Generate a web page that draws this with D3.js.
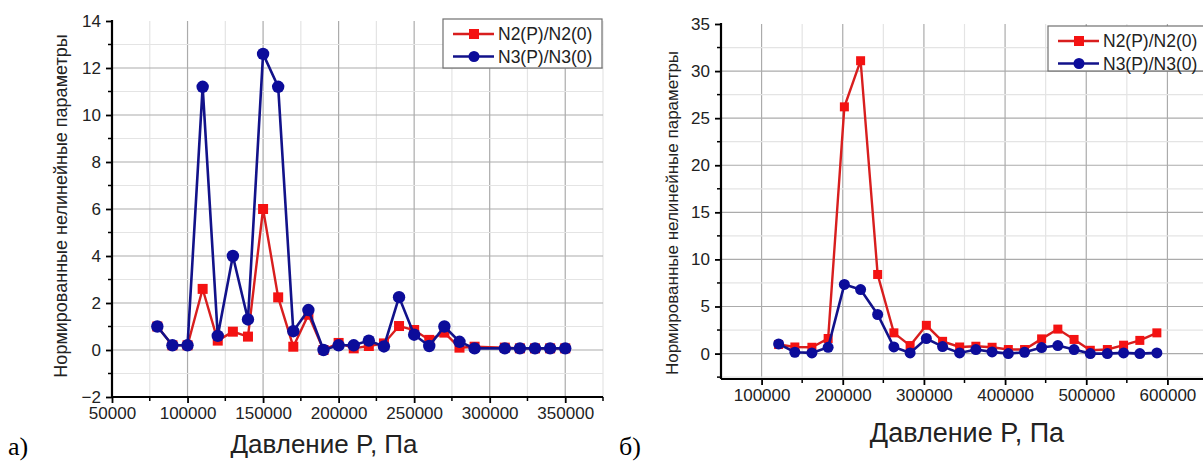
<!DOCTYPE html>
<html lang="ru">
    <head>
        <title>Нормированные нелинейные параметры</title>
        <script src="https://d3js.org/d3.v7.min.js"></script>
        <style>
            body { margin: 0; background: #fff; }
            text { font-family: "Liberation Sans", Arial, sans-serif; }
        </style>
    </head>
    <body>
    <div id="mainDiv"></div>

        <script type="text/javascript">
            const width = 1203
            const height = 463

            // panel a)
            const pressureA = [80000, 90000, 100000, 110000, 120000, 130000, 140000, 150000, 160000, 170000,
                180000, 190000, 200000, 210000, 220000, 230000, 240000, 250000, 260000, 270000,
                280000, 290000, 310000, 320000, 330000, 340000, 350000]
            const n2A = [1.0, 0.2, 0.2, 2.6, 0.4, 0.78, 0.57, 6.0, 2.24, 0.14,
                1.5, 0.0, 0.3, 0.07, 0.17, 0.28, 1.02, 0.85, 0.43, 0.74,
                0.1, 0.14, 0.1, 0.07, 0.07, 0.07, 0.07]
            const n3A = [1.0, 0.2, 0.2, 11.2, 0.6, 4.0, 1.3, 12.6, 11.2, 0.8,
                1.7, 0.0, 0.2, 0.2, 0.4, 0.15, 2.25, 0.65, 0.17, 1.0,
                0.35, 0.07, 0.07, 0.07, 0.07, 0.07, 0.07]
            const xTicksA = [50000, 100000, 150000, 200000, 250000, 300000, 350000]
            const yTicksA = [-2, 0, 2, 4, 6, 8, 10, 12, 14]

            // panel б)
            const pressureB = [121000, 141000, 162000, 182000, 202000, 222000, 243000, 263000, 283000, 303000,
                323000, 344000, 364000, 384000, 404000, 424000, 445000, 465000, 485000, 505000,
                526000, 546000, 566000, 587000]
            const n2B = [0.96, 0.7, 0.67, 1.6, 26.2, 31.1, 8.4, 2.2, 0.85, 3.0,
                1.3, 0.7, 0.78, 0.67, 0.43, 0.43, 1.56, 2.6, 1.5, 0.35,
                0.43, 0.89, 1.4, 2.2]
            const n3B = [1.03, 0.14, 0.07, 0.67, 7.34, 6.8, 4.15, 0.7, 0.07, 1.6,
                0.74, 0.07, 0.43, 0.18, 0.0, 0.14, 0.64, 0.85, 0.43, 0.0,
                0.0, 0.07, 0.0, 0.07]
            const xTicksB = [100000, 200000, 300000, 400000, 500000, 600000]
            const yTicksB = [0, 5, 10, 15, 20, 25, 30, 35]

            const seriesNames = ['N2(P)/N2(0)', 'N3(P)/N3(0)']
            const yTitle = 'Нормированные нелинейные параметры'
            const xTitle = 'Давление P, Па'

            const red = { line: '#d81e1e', fill: '#f41212' }
            const blue = { line: '#12128a', fill: '#0c0c9a' }

            const svg = d3.select('#mainDiv').append('svg')
                .attr('width', width)
                .attr('height', height)

            function drawPanel(p) {
                const x = d3.scaleLinear().domain(p.xDomain).range([p.left, p.right])
                const y = d3.scaleLinear().domain(p.yDomain).range([p.bottom, p.top])
                const g = svg.append('g')

                // minor + major grid
                const xMinor = d3.range(p.xDomain[0], p.xDomain[1] + 1, p.xMinorStep)
                const yMinor = d3.range(p.yMinorStart, p.yDomain[1], p.yMinorStep)
                g.append('g').selectAll('line').data(xMinor.filter(v => v > p.xDomain[0])).join('line')
                    .attr('x1', d => x(d)).attr('x2', d => x(d))
                    .attr('y1', p.top).attr('y2', p.bottom)
                    .attr('stroke', d => p.xTicks.includes(d) ? '#ababab' : '#e4e4e4')
                    .attr('stroke-width', 1.2)
                g.append('g').selectAll('line').data(yMinor.filter(v => v > p.yDomain[0])).join('line')
                    .attr('x1', p.left).attr('x2', p.right)
                    .attr('y1', d => y(d)).attr('y2', d => y(d))
                    .attr('stroke', d => p.yTicks.includes(d) ? '#ababab' : '#e4e4e4')
                    .attr('stroke-width', 1.2)

                // axes
                const xAxis = g.append('g')
                    .attr('transform', `translate(0, ${p.bottom})`)
                    .call(d3.axisBottom(x).tickValues(p.xTicks).tickSize(6).tickPadding(4).tickFormat(d3.format('d')))
                xAxis.append('g').selectAll('line').data(xMinor.filter(v => !p.xTicks.includes(v) && v > p.xDomain[0])).join('line')
                    .attr('x1', d => x(d)).attr('x2', d => x(d)).attr('y1', 0).attr('y2', 4)
                    .attr('stroke', '#000').attr('stroke-width', 1.5)
                const yAxis = g.append('g')
                    .attr('transform', `translate(${p.left}, 0)`)
                    .call(d3.axisLeft(y).tickValues(p.yTicks).tickSize(6).tickPadding(5))
                yAxis.append('g').selectAll('line').data(yMinor.filter(v => !p.yTicks.includes(v))).join('line')
                    .attr('y1', d => y(d)).attr('y2', d => y(d)).attr('x1', 0).attr('x2', -4)
                    .attr('stroke', '#000').attr('stroke-width', 1.5)
                ;[xAxis, yAxis].forEach(a => {
                    a.select('.domain').remove()
                    a.selectAll('.tick line').attr('stroke-width', 1.8)
                    a.selectAll('.tick text').attr('font-size', 17).attr('fill', '#222')
                        .style('font-family', '"Liberation Sans", Arial, sans-serif')
                })
                g.append('line').attr('x1', p.left).attr('x2', p.right).attr('y1', p.bottom).attr('y2', p.bottom)
                    .attr('stroke', '#000').attr('stroke-width', 2.2)
                g.append('line').attr('x1', p.left).attr('x2', p.left).attr('y1', p.top - 1).attr('y2', p.bottom)
                    .attr('stroke', '#000').attr('stroke-width', 2.2)

                // titles
                g.append('text')
                    .attr('transform', `translate(${p.yTitleX}, ${p.yTitleY}) rotate(-90)`)
                    .attr('text-anchor', 'middle')
                    .attr('font-size', p.yTitleSize)
                    .attr('fill', '#222')
                    .text(yTitle)
                g.append('text')
                    .attr('x', p.xTitleX).attr('y', p.xTitleY)
                    .attr('text-anchor', 'middle')
                    .attr('font-size', p.xTitleSize)
                    .attr('fill', '#222')
                    .text(xTitle)
                svg.append('text')
                    .attr('x', p.letterX).attr('y', 455)
                    .attr('font-size', 26)
                    .style('font-family', '"Liberation Serif", "Times New Roman", serif')
                    .text(p.letter)

                // series
                const line = d3.line().x(d => x(d[0])).y(d => y(d[1]))
                const n2 = p.pressure.map((v, i) => [v, p.n2[i]])
                const n3 = p.pressure.map((v, i) => [v, p.n3[i]])

                g.append('path').datum(n2).attr('d', line)
                    .attr('fill', 'none').attr('stroke', red.line).attr('stroke-width', 2.4)
                g.append('g').selectAll('rect').data(n2).join('rect')
                    .attr('x', d => x(d[0]) - p.sq / 2).attr('y', d => y(d[1]) - p.sq / 2)
                    .attr('width', p.sq).attr('height', p.sq)
                    .attr('fill', red.fill)
                g.append('path').datum(n3).attr('d', line)
                    .attr('fill', 'none').attr('stroke', blue.line).attr('stroke-width', 2.6)
                g.append('g').selectAll('circle').data(n3).join('circle')
                    .attr('cx', d => x(d[0])).attr('cy', d => y(d[1]))
                    .attr('r', p.r)
                    .attr('fill', blue.fill)

                // legend
                const lg = g.append('g').attr('transform', `translate(${p.legendX}, ${p.legendY})`)
                lg.append('rect').attr('width', p.legendW).attr('height', p.legendH)
                    .attr('fill', '#fff').attr('stroke', '#707070').attr('stroke-width', 1.2)
                const styles = [red, blue]
                seriesNames.forEach((name, i) => {
                    const ly = 15 + i * 22.5
                    lg.append('line').attr('x1', 10).attr('x2', 51).attr('y1', ly).attr('y2', ly)
                        .attr('stroke', styles[i].line).attr('stroke-width', 2.4)
                    if (i === 0) {
                        lg.append('rect').attr('x', 31 - 5).attr('y', ly - 5).attr('width', 10).attr('height', 10)
                            .attr('fill', red.fill)
                    } else {
                        lg.append('circle').attr('cx', 31).attr('cy', ly).attr('r', 5.5).attr('fill', blue.fill)
                    }
                    lg.append('text').attr('x', 55).attr('y', ly + 6)
                        .attr('font-size', 17.5).attr('fill', '#222')
                        .text(name)
                })
            }

            drawPanel({
                pressure: pressureA, n2: n2A, n3: n3A,
                xTicks: xTicksA, yTicks: yTicksA,
                xDomain: [50000, 375000], yDomain: [-2, 14],
                xMinorStep: 25000, yMinorStart: -2, yMinorStep: 1,
                left: 112, right: 603, top: 21, bottom: 397,
                yTitleX: 67, yTitleY: 206, yTitleSize: 18,
                xTitleX: 324, xTitleY: 453, xTitleSize: 26,
                letter: 'а)', letterX: 8,
                sq: 10, r: 6.2,
                legendX: 443, legendY: 19, legendW: 159, legendH: 49
            })

            drawPanel({
                pressure: pressureB, n2: n2B, n3: n3B,
                xTicks: xTicksB, yTicks: yTicksB,
                xDomain: [50000, 650000], yDomain: [-2.7, 35],
                xMinorStep: 50000, yMinorStart: -2.5, yMinorStep: 2.5,
                left: 721, right: 1208, top: 24, bottom: 379,
                yTitleX: 678, yTitleY: 213, yTitleSize: 17,
                xTitleX: 967, xTitleY: 442, xTitleSize: 27,
                letter: 'б)', letterX: 619,
                sq: 9, r: 5.5,
                legendX: 1048, legendY: 26, legendW: 170, legendH: 45
            })
        </script>
    </body>
</html>
